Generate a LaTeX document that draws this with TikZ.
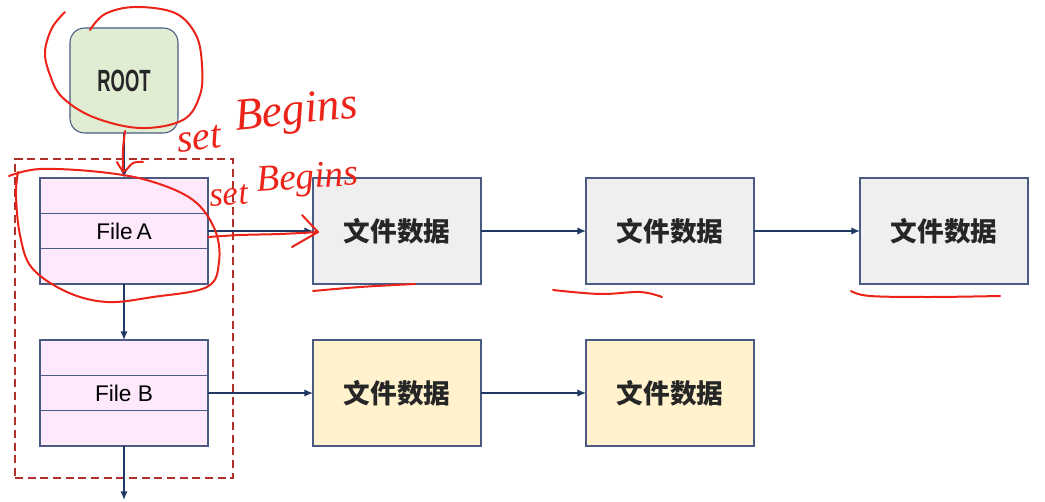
\documentclass[tikz,border=0pt]{standalone}
\usepackage{fontspec}
\usepackage{graphicx}
\setmainfont{Liberation Sans}
\newfontfamily\cjk{Noto Sans CJK SC}
\newfontfamily\hand{Liberation Serif}
\usetikzlibrary{arrows.meta,calc}
\definecolor{boxline}{HTML}{4A5A82}
\definecolor{filefill}{HTML}{FDE8FC}
\definecolor{grayfill}{HTML}{EFEFEF}
\definecolor{yelfill}{HTML}{FFF2CC}
\definecolor{rootfill}{HTML}{E0EDD3}
\definecolor{navy}{HTML}{1F3864}
\definecolor{dashred}{HTML}{B0302A}
\definecolor{inkred}{HTML}{EC2318}
\tikzset{
  filebox/.style={draw=boxline, fill=filefill, line width=0.8pt, minimum width=126pt, minimum height=79.5pt, inner sep=0pt, outer sep=0pt, font=\fontsize{17}{20}\selectfont},
  databox/.style={draw=boxline, line width=0.8pt, minimum width=126pt, minimum height=79.5pt, inner sep=0pt, outer sep=0pt, font=\cjk\bfseries\fontsize{20}{24}\selectfont, text=black!85},
  graybox/.style={databox, fill=grayfill},
  yellowbox/.style={databox, fill=yelfill},
  rootbox/.style={draw=boxline, fill=rootfill, line width=0.8pt, rounded corners=11pt, minimum width=81pt, minimum height=78.75pt, inner sep=0pt, outer sep=0pt, font=\bfseries\fontsize{23}{26}\selectfont, text=black!85},
  groupbox/.style={draw=dashred, line width=1.4pt, dash pattern=on 6pt off 3.5pt, minimum width=163.5pt, minimum height=239.25pt, inner sep=0pt},
  divline/.style={draw=boxline, line width=0.8pt},
  link/.style={draw=navy, line width=1.1pt, -{Latex[length=6.5pt,width=5.5pt]}},
  ink/.style={draw=inkred, line width=1.5pt, line cap=round, line join=round},
  handtext/.style={text=inkred, font=\hand\itshape\fontsize{30}{32}\selectfont, inner sep=0pt}
}
\begin{document}
\begin{tikzpicture}[x=0.75pt,y=-0.75pt]
\useasboundingbox[fill=white] (0,0) rectangle (1045,502);

% group frame
\node[groupbox] (grp) at (124,318.5) {};

% root
\node[rootbox] (root) at (124,80.5) {\scalebox{0.6}[1]{ROOT}};

% files
\node[filebox] (fa) at (124,231) {File\,A};
\node[filebox] (fb) at (124,393) {File B};
\foreach \f in {fa,fb}{
  \draw[divline] ($(\f.north west)!1/3!(\f.south west)$) -- ($(\f.north east)!1/3!(\f.south east)$);
  \draw[divline] ($(\f.north west)!2/3!(\f.south west)$) -- ($(\f.north east)!2/3!(\f.south east)$);
}

% data blocks
\node[graybox] (g1) at (397,231) {文件数据};
\node[graybox] (g2) at (670,231) {文件数据};
\node[graybox] (g3) at (944,231) {文件数据};
\node[yellowbox] (y1) at (397,393) {文件数据};
\node[yellowbox] (y2) at (670,393) {文件数据};

\coordinate (fbout) at (124,500);

% connectors
\draw[link] (root.south) -- (fa.north);
\draw[link] (fa.south) -- (fb.north);
\draw[link] (fb.south) -- (fbout);
\draw[link] (fa.east) -- (g1.west);
\draw[link] (g1.east) -- (g2.west);
\draw[link] (g2.east) -- (g3.west);
\draw[link] (fb.east) -- (y1.west);
\draw[link] (y1.east) -- (y2.west);

% handwritten annotations
\draw[ink] plot[smooth, tension=0.6] coordinates {(65,12) (52,28) (45,52) (50,75) (62,97) (93,117) (140,128) (183,120) (200,95) (202,65) (196,35) (175,13) (135,7) (105,14) (90,30)};
\draw[ink] plot[smooth, tension=0.6] coordinates {(125,131) (123,150) (123,172)};
\draw[ink] plot[smooth, tension=0.6] coordinates {(117,162) (124,171) (133,163) (143,162)};
\node[handtext, rotate=6, anchor=south west] (t1a) at (178,153) {set};
\node[handtext, rotate=6, anchor=south west, font=\hand\itshape\fontsize{34}{36}\selectfont] (t1b) at (237,140) {Begins};
\node[handtext, rotate=4, anchor=south west, font=\hand\itshape\fontsize{26}{28}\selectfont] (t2a) at (210,207) {set};
\node[handtext, rotate=4, anchor=south west, font=\hand\itshape\fontsize{28}{30}\selectfont] (t2b) at (258,200) {Begins};
\draw[ink] plot[smooth, tension=0.6] coordinates {(9,176) (40,169) (100,172) (150,181) (193,200) (215,230) (219,262) (207,287) (153,297) (107,302) (67,292) (32,268) (20,235) (16,195) (18,172)};
\draw[ink] plot[smooth, tension=0.5] coordinates {(208,237) (240,235) (280,234) (318,232)};
\draw[ink] (302,215) -- (318,232) -- (292,247);
\draw[ink] plot[smooth, tension=0.6] coordinates {(313,291) (360,287) (415,284)};
\draw[ink] plot[smooth, tension=0.6] coordinates {(553,290) (600,294) (640,292) (662,297)};
\draw[ink] plot[smooth, tension=0.6] coordinates {(851,291) (870,296) (930,297) (1000,296)};
\end{tikzpicture}
\end{document}
